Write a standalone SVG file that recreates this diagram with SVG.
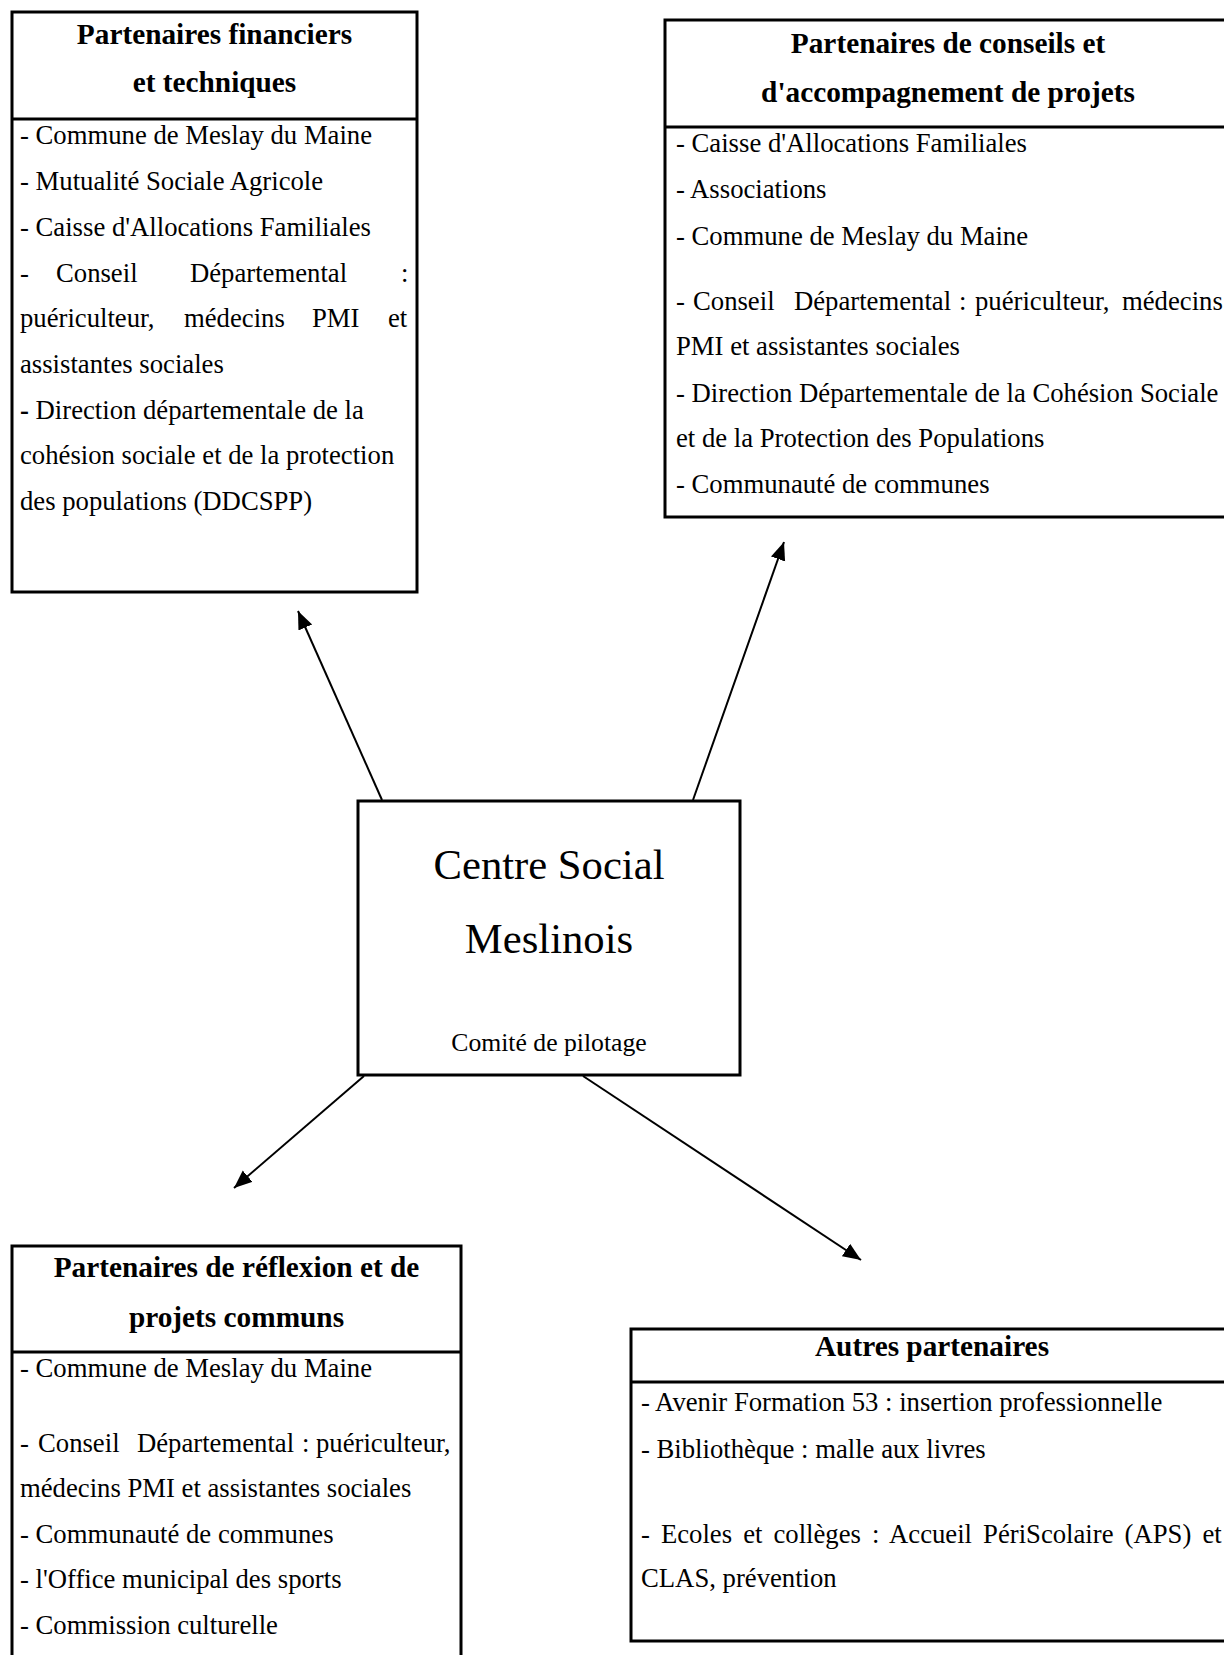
<svg xmlns="http://www.w3.org/2000/svg" width="1224" height="1655" viewBox="0 0 1224 1655">
<style>
text { font-family: "Liberation Serif", "Times New Roman", serif; fill: #000; }
.t { font-size: 29.3px; font-weight: bold; text-anchor: middle; }
.b { font-size: 26.7px; }
.box { fill: #fff; stroke: #000; stroke-width: 3; }
.div { stroke: #000; stroke-width: 3; }
.con { stroke: #000; stroke-width: 2; fill: none; marker-end: url(#ah); }
</style>
<defs>
<marker id="ah" markerUnits="userSpaceOnUse" markerWidth="20" markerHeight="16" refX="18" refY="7.5" orient="auto">
<path d="M0,0 L18,7.5 L0,15 z" fill="#000"/>
</marker>
</defs>
<rect width="1224" height="1655" fill="#fff"/>

<g id="connectors">
<line class="con" x1="382" y1="800" x2="298" y2="611"/>
<line class="con" x1="693" y1="800" x2="784" y2="542"/>
<line class="con" x1="364" y1="1076" x2="234" y2="1188"/>
<line class="con" x1="583" y1="1076" x2="861" y2="1260"/>
</g>

<g id="financiers">
<rect class="box" x="12" y="12" width="405" height="580"/>
<line class="div" x1="12" y1="119" x2="417" y2="119"/>
<text class="t" x="214.5" y="44">Partenaires financiers</text>
<text class="t" x="214.5" y="92">et techniques</text>
<text class="b" x="20" y="144">- Commune de Meslay du Maine</text>
<text class="b" x="20" y="190">- Mutualité Sociale Agricole</text>
<text class="b" x="20" y="236">- Caisse d'Allocations Familiales</text>
<text class="b" y="282"><tspan x="20">-</tspan><tspan x="56">Conseil</tspan><tspan x="190">Départemental</tspan><tspan x="401">:</tspan></text>
<text class="b" y="327"><tspan x="20">puériculteur,</tspan><tspan x="184">médecins</tspan><tspan x="312">PMI</tspan><tspan x="388">et</tspan></text>
<text class="b" x="20" y="373">assistantes sociales</text>
<text class="b" x="20" y="419"><tspan font-weight="bold">-</tspan> Direction départementale de la</text>
<text class="b" x="20" y="464">cohésion sociale et de la protection</text>
<text class="b" x="20" y="510">des populations (DDCSPP)</text>
</g>

<g id="conseils">
<rect class="box" x="665" y="20" width="566" height="497"/>
<line class="div" x1="665" y1="127" x2="1231" y2="127"/>
<text class="t" x="948" y="53">Partenaires de conseils et</text>
<text class="t" x="948" y="102">d'accompagnement de projets</text>
<text class="b" x="676" y="152">- Caisse d'Allocations Familiales</text>
<text class="b" x="676" y="198">- Associations</text>
<text class="b" x="676" y="245">- Commune de Meslay du Maine</text>
<text class="b" y="310"><tspan x="676">-</tspan><tspan x="693">Conseil</tspan><tspan x="794">Départemental</tspan><tspan x="959">:</tspan><tspan x="975">puériculteur,</tspan><tspan x="1122">médecins</tspan></text>
<text class="b" x="676" y="355">PMI et assistantes sociales</text>
<text class="b" x="676" y="402">- Direction Départementale de la Cohésion Sociale</text>
<text class="b" x="676" y="447">et de la Protection des Populations</text>
<text class="b" x="676" y="493">- Communauté de communes</text>
</g>

<g id="centre">
<rect class="box" x="358" y="801" width="382" height="274"/>
<text x="549" y="879" font-size="42.67" text-anchor="middle">Centre Social</text>
<text x="549" y="953" font-size="42.67" text-anchor="middle">Meslinois</text>
<text x="549" y="1051" font-size="25.7" text-anchor="middle">Comité de pilotage</text>
</g>

<g id="reflexion">
<rect class="box" x="12" y="1246" width="449" height="450"/>
<line class="div" x1="12" y1="1352" x2="461" y2="1352"/>
<text class="t" x="236.5" y="1277">Partenaires de réflexion et de</text>
<text class="t" x="236.5" y="1327">projets communs</text>
<text class="b" x="20" y="1377">- Commune de Meslay du Maine</text>
<text class="b" y="1452"><tspan x="20">-</tspan><tspan x="38">Conseil</tspan><tspan x="137">Départemental</tspan><tspan x="302">:</tspan><tspan x="316">puériculteur,</tspan></text>
<text class="b" x="20" y="1497">médecins PMI et assistantes sociales</text>
<text class="b" x="20" y="1543">- Communauté de communes</text>
<text class="b" x="20" y="1588">- l'Office municipal des sports</text>
<text class="b" x="20" y="1634">- Commission culturelle</text>
</g>

<g id="autres">
<rect class="box" x="631" y="1329" width="600" height="312"/>
<line class="div" x1="631" y1="1382" x2="1231" y2="1382"/>
<text class="t" x="932" y="1356">Autres partenaires</text>
<text class="b" x="641" y="1411">- Avenir Formation 53 : insertion professionnelle</text>
<text class="b" x="641" y="1458">- Bibliothèque : malle aux livres</text>
<text class="b" x="641" y="1543" word-spacing="4.4">- Ecoles et collèges : Accueil PériScolaire (APS) et</text>
<text class="b" x="641" y="1587">CLAS, prévention</text>
</g>
</svg>
